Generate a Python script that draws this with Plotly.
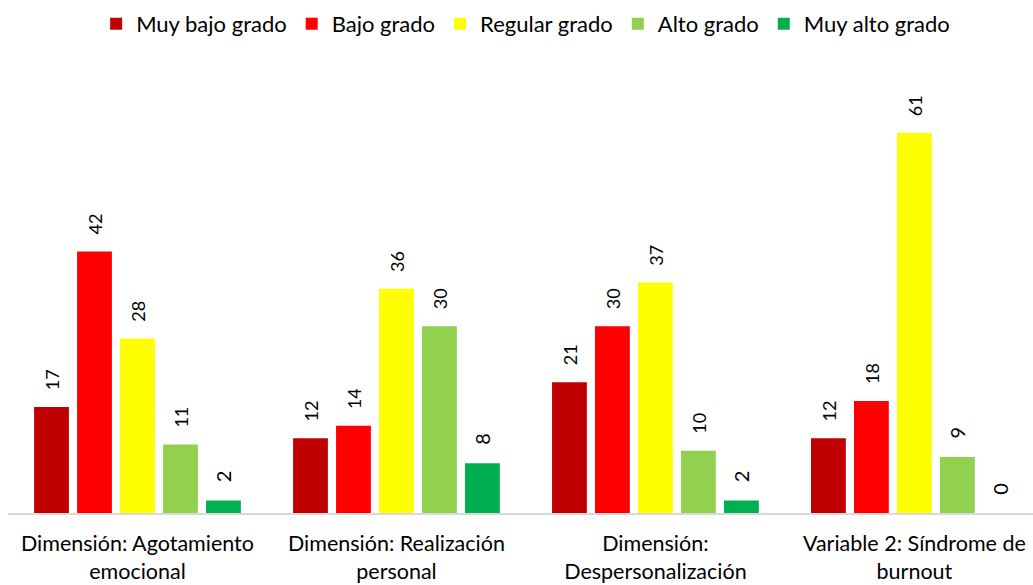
import plotly.graph_objects as go

categories = ["Dimensión: Agotamiento<br>emocional", "Dimensión: Realización<br>personal",
              "Dimensión:<br>Despersonalización", "Variable 2: Síndrome de<br>burnout"]
series_names = ["Muy bajo grado", "Bajo grado", "Regular grado", "Alto grado", "Muy alto grado"]
muy_bajo = [17, 12, 21, 12]
bajo = [42, 14, 30, 18]
regular = [28, 36, 37, 61]
alto = [11, 30, 10, 9]
muy_alto = [2, 8, 2, 0]
colors = ["#C00000", "#FF0000", "#FFFF00", "#92D050", "#00B050"]

FONT = "Lato, Carlito, Open Sans, sans-serif"
PAD = "\u00a0\u00a0\u00a0"

fig = go.Figure()
for name, vals, col in zip(series_names, [muy_bajo, bajo, regular, alto, muy_alto], colors):
    fig.add_trace(go.Bar(
        x=categories, y=vals, name=name, marker=dict(color=col, line=dict(width=0)),
        text=[PAD + str(v) for v in vals], textposition="outside", textangle=-90,
        textfont=dict(size=20, color="#000000", family=FONT), cliponaxis=False,
    ))

fig.update_layout(
    width=1033, height=585,
    margin=dict(l=8, r=0, t=77, b=72, autoexpand=False),
    paper_bgcolor="white", plot_bgcolor="white",
    barmode="group", bargap=0.17, bargroupgap=0.19,
    font=dict(family=FONT, size=20, color="#000000"),
    legend=dict(orientation="h", x=0.505, xanchor="center", y=0.995, yanchor="top",
                yref="container", font=dict(size=22), itemsizing="constant",
                traceorder="normal", itemwidth=30),
    xaxis=dict(range=[-0.5, 3.458], showline=True, linecolor="#D9D9D9", linewidth=2,
               automargin=False, ticks="", ticklabelstandoff=10,
               tickfont=dict(size=21.5, color="#000000")),
    yaxis=dict(range=[0, 70], visible=False, showgrid=False, zeroline=False, automargin=False),
)
fig.write_html("out.html")
